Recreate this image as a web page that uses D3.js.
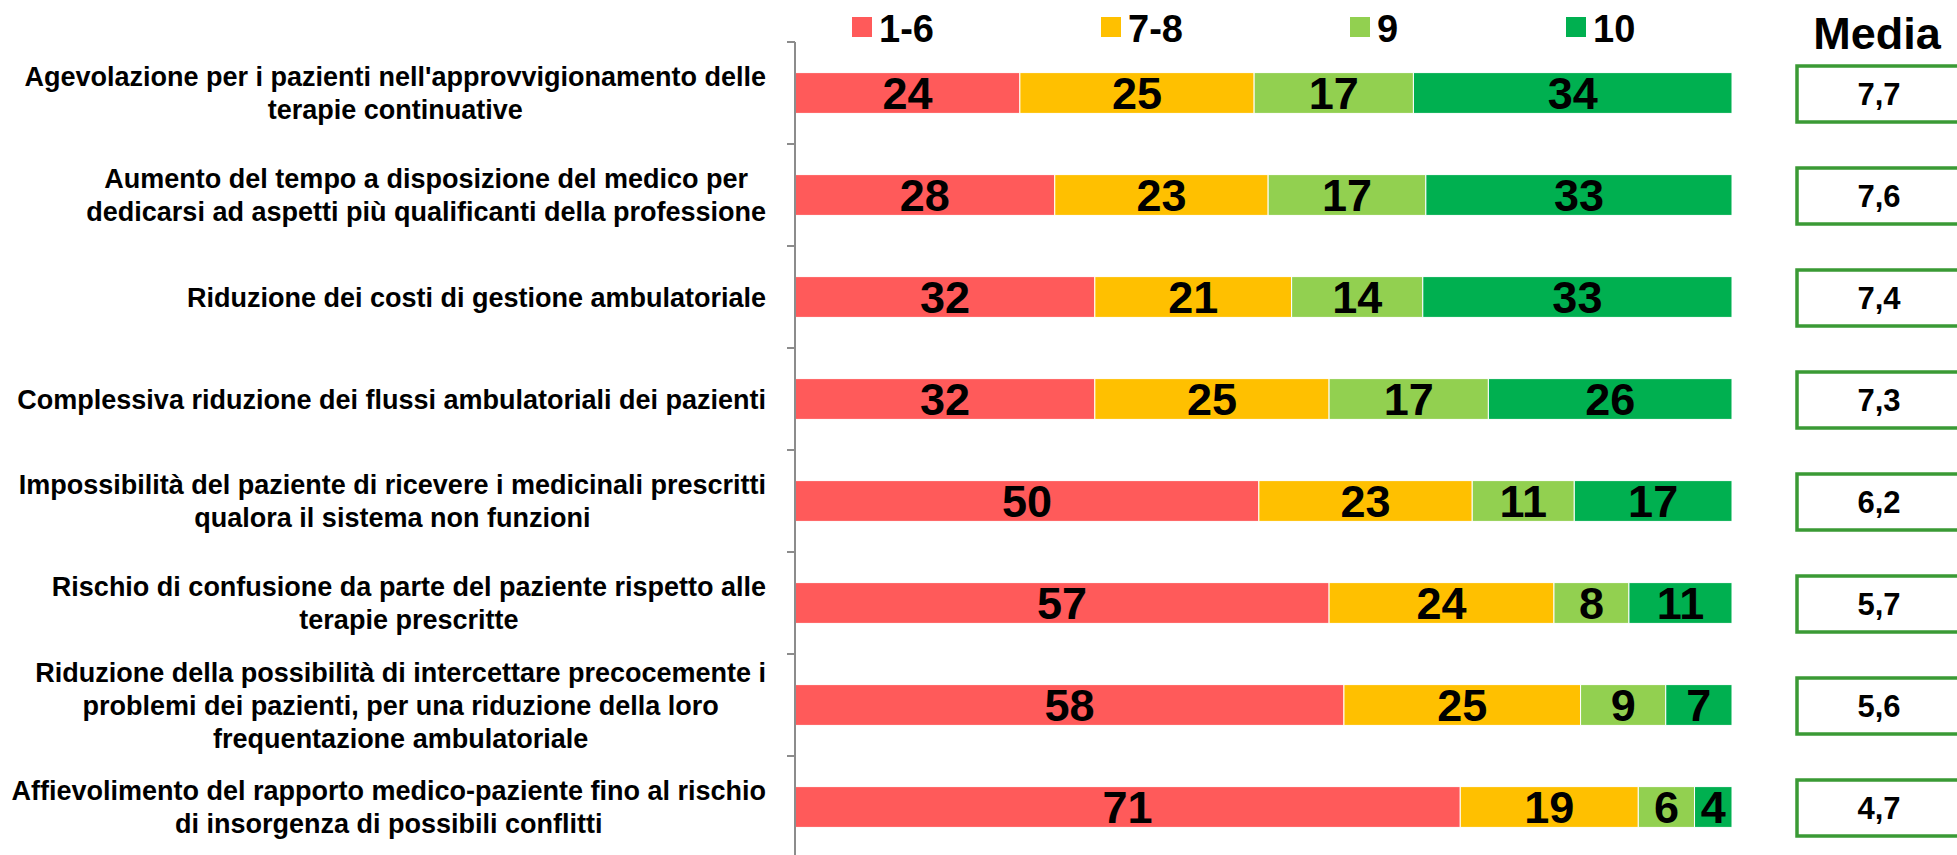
<!DOCTYPE html>
<html><head><meta charset="utf-8">
<script src="https://cdn.jsdelivr.net/npm/d3@7"></script>
<style>
html,body{margin:0;padding:0;background:#fff;}
svg{display:block;font-family:"Liberation Sans",Arial,sans-serif;font-weight:bold;}
</style></head>
<body>
<svg id="chart" width="1957" height="855"></svg>
<script>
// ---- data ----
const categories = [
  "Agevolazione per i pazienti nell'approvvigionamento delle\nterapie continuative",
  "Aumento del tempo a disposizione del medico per\ndedicarsi ad aspetti più qualificanti della professione",
  "Riduzione dei costi di gestione ambulatoriale",
  "Complessiva riduzione dei flussi ambulatoriali dei pazienti",
  "Impossibilità del paziente di ricevere i medicinali prescritti\nqualora il sistema non funzioni",
  "Rischio di confusione da parte del paziente rispetto alle\nterapie prescritte",
  "Riduzione della possibilità di intercettare precocemente i\nproblemi dei pazienti, per una riduzione della loro\nfrequentazione ambulatoriale",
  "Affievolimento del rapporto medico-paziente fino al rischio\ndi insorgenza di possibili conflitti"
];
const seriesNames = ["1-6", "7-8", "9", "10"];
const vals16 = [24, 28, 32, 32, 50, 57, 58, 71];
const vals78 = [25, 23, 21, 25, 23, 24, 25, 19];
const vals9  = [17, 17, 14, 17, 11,  8,  9,  6];
const vals10 = [34, 33, 33, 26, 17, 11,  7,  4];
const media  = [7.7, 7.6, 7.4, 7.3, 6.2, 5.7, 5.6, 4.7];
const mediaTitle = "Media";

// ---- styling / layout ----
const colors = ["#FF5A5A", "#FFC000", "#92D050", "#00B050"];
const boxColor = "#3A9A35";
const axisColor = "#8C8C8C";

const svg = d3.select("#chart");
const rows = categories.map((c, i) => ({
  cat: c, "1-6": vals16[i], "7-8": vals78[i], "9": vals9[i], "10": vals10[i], media: media[i]
}));

const x = d3.scaleLinear().domain([0, 1]).range([795, 1732]);
const y = d3.scaleBand().domain(d3.range(categories.length)).range([42, 858])
  .paddingInner(0.6).paddingOuter(0.3);
const step = y.step();

const stack = d3.stack().keys(seriesNames).offset(d3.stackOffsetExpand);
const stacked = stack(rows);

// bars
const layers = svg.append("g").selectAll("g").data(stacked).join("g")
  .attr("fill", (d, i) => colors[i]);
layers.selectAll("rect").data(d => d.map((p, i) => ({p, i, key: d.key}))).join("rect")
  .attr("x", d => x(d.p[0]))
  .attr("y", d => y(d.i))
  .attr("width", d => x(d.p[1]) - x(d.p[0]))
  .attr("height", y.bandwidth())
  .attr("stroke", "#fff").attr("stroke-width", 1);

// value labels
layers.selectAll("text").data(d => d.map((p, i) => ({p, i, key: d.key}))).join("text")
  .attr("x", d => (x(d.p[0]) + x(d.p[1])) / 2)
  .attr("y", d => y(d.i) + y.bandwidth() / 2)
  .attr("dy", "0.36em")
  .attr("text-anchor", "middle")
  .attr("fill", "#000")
  .style("font-size", "45px")
  .text(d => rows[d.i][d.key]);

// axis line and ticks
const axisG = svg.append("g");
const yTop = y.range()[0], yBot = y.range()[1];
axisG.append("line").attr("x1", x(0)).attr("x2", x(0)).attr("y1", yTop).attr("y2", yBot)
  .attr("stroke", axisColor).attr("stroke-width", 2);
axisG.selectAll("line.tick").data(d3.range(categories.length + 1)).join("line")
  .attr("class", "tick")
  .attr("x1", x(0) - 8).attr("x2", x(0))
  .attr("y1", i => yTop + i * step).attr("y2", i => yTop + i * step)
  .attr("stroke", axisColor).attr("stroke-width", 2);

// category labels
const labelRight = 766;
const lineH = 33;
const labG = svg.append("g").style("font-size", "27px").attr("fill", "#000");
rows.forEach((r, i) => {
  const lines = r.cat.split("\n");
  const t = labG.append("text").attr("text-anchor", "middle");
  const cy = y(i) + y.bandwidth() / 2;
  const tspans = lines.map((ln, k) => t.append("tspan")
    .attr("y", cy + (k - (lines.length - 1) / 2) * lineH)
    .attr("dy", "0.36em").text(ln));
  let maxW = 0;
  tspans.forEach(ts => { maxW = Math.max(maxW, ts.node().getComputedTextLength()); });
  tspans.forEach(ts => ts.attr("x", labelRight - maxW / 2));
});

// legend
const legendX = [852, 1101, 1350, 1566];
const legG = svg.append("g");
seriesNames.forEach((s, i) => {
  legG.append("rect").attr("x", legendX[i]).attr("y", 17).attr("width", 20).attr("height", 20)
    .attr("fill", colors[i]);
  legG.append("text").attr("x", legendX[i] + 27).attr("y", 28).attr("dy", "0.36em")
    .style("font-size", "38px").attr("fill", "#000").text(s);
});

// media column
const boxX = 1797, boxW = 164, boxH = 56;
svg.append("text").attr("x", 1877).attr("y", 33).attr("dy", "0.36em")
  .attr("text-anchor", "middle").style("font-size", "45px").attr("fill", "#000").text(mediaTitle);
const fmt = v => d3.format(".1f")(v).replace(".", ",");
const mG = svg.append("g");
rows.forEach((r, i) => {
  const cy = y(i) + y.bandwidth() / 2 + 1;
  mG.append("rect").attr("x", boxX).attr("y", cy - boxH / 2).attr("width", boxW).attr("height", boxH)
    .attr("fill", "#fff").attr("stroke", boxColor).attr("stroke-width", 3.5);
  mG.append("text").attr("x", boxX + 82).attr("y", cy).attr("dy", "0.36em")
    .attr("text-anchor", "middle").style("font-size", "31px").attr("fill", "#000").text(fmt(r.media));
});
</script>
</body></html>
